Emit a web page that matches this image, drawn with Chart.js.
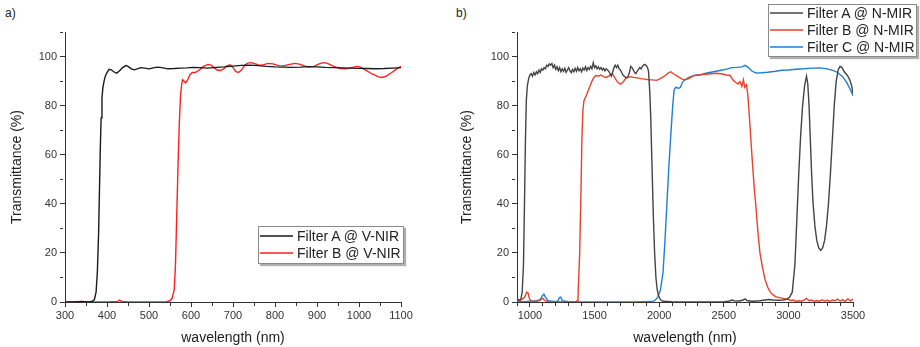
<!DOCTYPE html>
<html><head><meta charset="utf-8">
<script src="https://cdn.jsdelivr.net/npm/chart.js@4/dist/chart.umd.min.js"></script>
<style>
html,body{margin:0;padding:0;background:#fff;width:920px;height:347px;overflow:hidden;font-family:"Liberation Sans",Arial,sans-serif;}
#ca{position:absolute;left:0;top:0;}
#cb{position:absolute;left:450px;top:0;}
.plab{position:absolute;font-size:12px;color:#222;}
.leg{position:absolute;background:#fff;border:1px solid #8a8a8a;box-shadow:2px 2px 1px #b0b0b0;font-size:14px;color:#222;}
.leg div{height:17px;line-height:17px;white-space:nowrap;}
.leg svg{display:inline-block;vertical-align:middle;margin:0 4px 0 1px;position:relative;top:-1px;}
</style></head>
<body>
<div class="plab" style="left:5px;top:6px;">a)</div>
<div class="plab" style="left:456px;top:6px;">b)</div>
<canvas id="ca" width="450" height="347"></canvas>
<canvas id="cb" width="470" height="347"></canvas>
<div class="leg" style="left:258px;top:226px;width:144px;padding:1px 0 1px 0;">
  <div><svg width="33" height="6"><line x1="0" y1="3" x2="33" y2="3" stroke="#1a1a1a" stroke-width="1.6"/></svg>Filter A @ V-NIR</div>
  <div><svg width="33" height="6"><line x1="0" y1="3" x2="33" y2="3" stroke="#ff1f1f" stroke-width="1.6"/></svg>Filter B @ V-NIR</div>
</div>
<div class="leg" style="left:768px;top:4px;width:147px;padding:0;">
  <div><svg width="33" height="6"><line x1="0" y1="3" x2="33" y2="3" stroke="#444444" stroke-width="1.6"/></svg>Filter A @ N-MIR</div>
  <div><svg width="33" height="6"><line x1="0" y1="3" x2="33" y2="3" stroke="#e8412c" stroke-width="1.6"/></svg>Filter B @ N-MIR</div>
  <div><svg width="33" height="6"><line x1="0" y1="3" x2="33" y2="3" stroke="#1f7fd6" stroke-width="1.6"/></svg>Filter C @ N-MIR</div>
</div>
<script>
// ---- Panel a: V-NIR ----
const aWlA = [300,320,340,355,365,370,374,377,380,382,384,386,388,390,393,396,400,405,410,416,423,430,437,445,450,458,465,472,480,490,500,510,520,530,545,560,575,590,605,620,640,660,680,700,720,740,760,780,800,820,840,860,880,900,920,940,960,980,1000,1020,1040,1060,1080,1100];
const aTA  = [0,0,0.2,0,0.3,1,4,12,28,45,62,75,83,87,90,92,93.5,94.8,94.6,93.8,93.2,94.2,95.5,96.3,96,95,94.6,95,95.5,95.3,95,95.4,95.7,95.5,95,95.1,95.3,95.4,95.6,95.5,95.3,95.6,95.8,96.1,96.4,96.5,96.3,96,95.8,95.7,95.6,95.7,95.9,95.8,95.6,95.5,95.4,95.3,95.2,95.1,95,95.1,95.3,95.5];
const aWlB = [300,350,400,425,430,435,450,500,540,550,555,560,563,566,569,572,575,578,580,583,587,592,597,603,610,620,630,640,648,655,662,670,678,685,693,700,707,713,720,728,735,742,750,760,770,783,795,808,820,835,848,860,870,880,893,905,915,925,940,955,970,985,995,1005,1015,1030,1045,1055,1065,1078,1090,1100];
const aTB  = [0,0,0,0.2,0.8,0.2,0,0,0,0.5,1.5,5,15,35,55,72,84,89,90.5,90,89.3,90.5,92.5,93.5,93.5,94.5,96,96.8,96.5,95.5,94.5,94.3,95,96.2,96.6,95.5,93.8,93.5,94.5,96.5,97.3,97.5,97.2,96.6,96.5,97.2,97,96.3,96.2,96.8,97.2,96.8,96.2,95.8,96,97,97.5,97.2,96,95.1,95,95.6,96,95.6,94.6,93,91.8,91.5,92,93.5,95,96];

// ---- Panel b: N-MIR ----
const bWlA = [900,910,920,930,940,950,958,965,972,980,990,1000,1010,1020,1030,1040,1050,1060,1070,1080,1090,1100,1110,1120,1130,1140,1150,1160,1170,1180,1190,1200,1210,1220,1230,1240,1250,1260,1270,1280,1290,1300,1310,1320,1330,1340,1350,1360,1370,1380,1390,1400,1410,1420,1430,1440,1450,1460,1470,1480,1490,1500,1510,1520,1530,1540,1550,1560,1570,1580,1590,1600,1610,1620,1630,1640,1650,1660,1670,1680,1690,1700,1710,1720,1730,1740,1750,1760,1770,1780,1790,1800,1810,1820,1830,1840,1850,1860,1870,1880,1890,1900,1910,1918,1928,1935,1945,1955,1965,1975,1985,1995,2010,2030,2060,2100,2200,2300,2400,2500,2540,2560,2580,2620,2650,2665,2680,2720,2780,2820,2850,2880,2920,2960,2990,3010,3030,3050,3065,3080,3095,3110,3125,3140,3150,3160,3170,3180,3190,3205,3220,3235,3250,3265,3280,3295,3310,3325,3340,3355,3370,3385,3400,3415,3430,3445,3460,3475,3490,3500];
const bTA  = [0.5,1,0.8,1.2,4,15,40,65,82,88,91,92.5,93,92,93.5,92.5,93.8,93,94.5,93.5,95,94.5,95.5,95,96.5,96,97,96.5,97.2,95.5,96.5,94.8,95.8,94.2,95.5,93.8,95,94,95.2,93.5,94.5,95.5,94.2,93.5,94.8,93.8,95.2,94,95.5,94.2,95,93.8,95.3,94.5,95.8,94.3,95.5,94.8,96,95,97.5,95.5,96.2,95,95.8,94.8,95.5,94.5,95.2,94.2,95,94.5,94,93,92,93.5,95.5,96.5,95.5,96.5,95,94.5,93.5,92.5,92,91.5,91.5,92,93.5,96,95.5,94.5,93.5,93,94,94.8,95.5,95,96,96.5,96.8,96.3,95.5,94,85,75,55,35,20,10,5,2.5,1,0.3,0.2,0.1,0,0,0,0.1,0.3,0.8,0.5,0.4,0.8,1.3,0.6,0.3,0.5,0.8,1,0.8,0.7,0.8,1.2,2,4,15,33,52,68,80,88,92,89,80,66,52,41,31,25,22,21,22,25,31,40,52,66,80,90,94.5,96,95.5,94,93,92,90.5,88,85];
const bWlB = [900,920,940,960,975,985,995,1010,1040,1070,1090,1100,1110,1130,1200,1300,1355,1365,1372,1385,1395,1402,1410,1418,1435,1450,1465,1480,1495,1510,1530,1550,1570,1590,1610,1630,1645,1660,1680,1700,1720,1740,1760,1780,1800,1830,1860,1890,1920,1950,1980,2010,2040,2070,2090,2110,2140,2170,2200,2230,2260,2290,2320,2360,2400,2440,2480,2520,2550,2570,2590,2610,2625,2640,2652,2662,2675,2685,2695,2705,2720,2735,2750,2765,2780,2800,2820,2840,2860,2880,2900,2930,2960,2980,3000,3020,3040,3060,3080,3100,3120,3140,3160,3180,3200,3220,3240,3260,3280,3300,3320,3340,3360,3380,3400,3420,3440,3460,3480,3500];
const bTB  = [1,0.5,1.2,2,4,3.8,1.5,0.3,0.2,0.5,1.2,1.5,0.8,0.2,0,0,0,0.5,2,20,45,66,78,82,84,86,88,90,91.5,92.3,92,92.5,91.8,91.5,92,93,92.5,91,89.5,88.8,89.5,91,91.5,91.8,91.5,91.3,91,90.8,90.5,90.5,90.3,91,92,93.3,93.8,93,92,91,90.5,91,92,92.5,92.6,92.8,93,93.2,93,92.5,92.3,90.5,89.5,88.8,89.8,87.8,90.5,87.5,88.5,85,78,70,58,47,38,28,20,14,9,6,4,3,2.2,1.8,1.5,1.2,1,0.6,0.8,0.2,0.5,0.3,0.8,1.5,0.5,0.8,0.3,0.6,0.2,0.9,0.4,0.7,0.3,0.8,0.5,1.2,0.4,0.9,0.3,1.3,0.5,1.2];
const bWlC = [900,950,1000,1050,1080,1095,1108,1120,1140,1180,1215,1228,1238,1250,1300,1500,1800,1950,1970,1990,2010,2030,2045,2060,2075,2090,2105,2116,2130,2150,2165,2180,2200,2230,2270,2320,2370,2420,2470,2500,2530,2560,2600,2640,2667,2690,2720,2750,2790,2840,2900,2950,3000,3060,3120,3180,3245,3300,3350,3380,3420,3451,3480,3500];
const bTC  = [0.2,0.1,0.3,0.5,1,2.5,3.2,2,0.5,0.2,0.3,1.8,2,0.5,0.1,0,0,0.2,0.8,2,5,12,25,40,55,68,80,86.5,87.5,87,87.5,89.5,90.5,91.5,92.3,92.6,93.3,93.8,94.3,94.6,95,95.5,95.6,95.8,96.4,95.5,94,93.3,93.4,93.6,94,94.4,94.5,94.8,95,95.3,95.4,95,94.3,93.5,91.8,89.5,86.5,84];

const yTicks = [0,20,40,60,80,100];

function pts(xs, ys){ return xs.map((x,i)=>({x:x, y:ys[i]})); }
function ds(label, xs, ys, color){
  return {label:label, data:pts(xs,ys), borderColor:color, backgroundColor:color, borderWidth:1.4, pointRadius:0, tension:0, fill:false};
}
const FONT = '"Liberation Sans", Arial, sans-serif';
function makeOpts(xmin, xmax, xstep, xmajor, yAxisW, padRight){
  return {
    responsive:false, animation:false, maintainAspectRatio:false,
    layout:{padding:{left:0, top:32, right:padRight, bottom:0}},
    plugins:{legend:{display:false}, tooltip:{enabled:false}},
    scales:{
      x:{type:'linear', min:xmin, max:xmax,
        afterFit:(s)=>{s.height=45;},
        ticks:{stepSize:xstep, autoSkip:false, maxRotation:0, padding:2, color:'#333', font:{family:FONT,size:11},
          callback:(v)=> (v % xmajor === 0 ? String(v) : '')},
        grid:{display:true, drawOnChartArea:false, drawTicks:true, tickLength:5, tickColor:'#333', tickWidth:1,
          tickBorderDash:(c)=> (c.tick && c.tick.value % xmajor !== 0 ? [3,20] : [])},
        border:{display:true, color:'#333', width:1},
        title:{display:true, text:'wavelength (nm)', color:'#222', font:{family:FONT,size:14}, padding:{top:2,bottom:0}}
      },
      y:{type:'linear', min:0, max:110,
        afterFit:(s)=>{s.width=yAxisW;},
        ticks:{stepSize:10, autoSkip:false, padding:3, color:'#333', font:{family:FONT,size:11},
          callback:(v)=> (yTicks.includes(v) ? String(v) : '')},
        grid:{display:true, drawOnChartArea:false, drawTicks:true, tickLength:5, tickColor:'#333', tickWidth:1,
          tickBorderDash:(c)=> (c.tick && !yTicks.includes(c.tick.value) ? [3,20] : [])},
        border:{display:true, color:'#333', width:1},
        title:{display:true, text:'Transmittance (%)', color:'#222', font:{family:FONT,size:14}, padding:{top:9,bottom:0}}
      }
    }
  };
}
new Chart(document.getElementById('ca'), {
  type:'line',
  data:{datasets:[ds('Filter A @ V-NIR', aWlA, aTA, '#1a1a1a'), ds('Filter B @ V-NIR', aWlB, aTB, '#ff1f1f')]},
  options:makeOpts(300,1100,50,100,65,49)
});
new Chart(document.getElementById('cb'), {
  type:'line',
  data:{datasets:[ds('Filter A @ N-MIR', bWlA, bTA, '#444444'), ds('Filter B @ N-MIR', bWlB, bTB, '#e8412c'), ds('Filter C @ N-MIR', bWlC, bTC, '#1f7fd6')]},
  options:makeOpts(900,3500,100,500,67,67)
});
</script>
</body></html>
